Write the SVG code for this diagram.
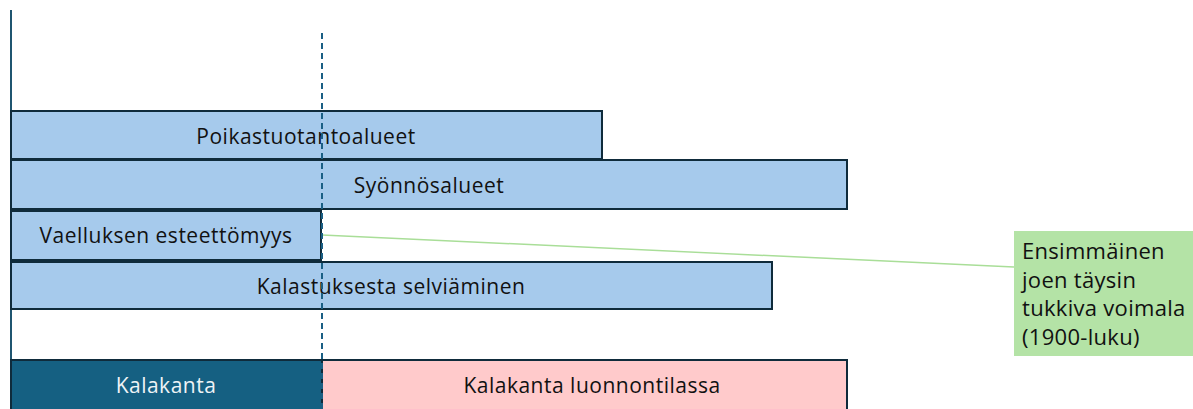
<svg xmlns="http://www.w3.org/2000/svg" width="1193" height="409" viewBox="0 0 1193 409">
<style>
.bar{fill:#a6caec;stroke:#0f2b3b;stroke-width:2}
.t{font-family:"Open Sans","Liberation Sans",Arial,sans-serif;font-size:21px;letter-spacing:0.5px;fill:#111;text-anchor:middle}
.tl{font-family:"Open Sans","Liberation Sans",Arial,sans-serif;font-size:22px;letter-spacing:0.3px;fill:#111}
</style>
<rect width="1193" height="409" fill="#fff"/>
<g id="axis"><line x1="11" y1="10" x2="11" y2="409" stroke="#1f5570" stroke-width="2"/></g>
<g id="poikastuotantoalueet"><rect class="bar" x="11" y="111" width="591" height="48"/><text class="t" x="306" y="144">Poikastuotantoalueet</text></g>
<g id="syonnosalueet"><rect class="bar" x="11" y="160" width="836" height="49"/><text class="t" x="429" y="193">Syönnösalueet</text></g>
<g id="vaellus"><rect class="bar" x="11" y="211" width="310" height="49"/><text class="t" x="166" y="243">Vaelluksen esteettömyys</text></g>
<g id="kalastus"><rect class="bar" x="11" y="262" width="761" height="47"/><text class="t" x="391" y="294">Kalastuksesta selviäminen</text></g>
<g id="kalakanta"><rect x="11" y="360" width="311" height="52" fill="#156082" stroke="#0f2b3b" stroke-width="2"/><text class="t" x="166" y="393" style="fill:#eef3f6">Kalakanta</text></g>
<g id="luonnontila"><rect x="322" y="360" width="525" height="52" fill="#ffcacb" stroke="#0f2b3b" stroke-width="2"/><text class="t" x="592" y="393">Kalakanta luonnontilassa</text></g>
<g id="voimala"><rect x="1014" y="231" width="179" height="125" fill="#b4e3a6"/>
<text class="tl" x="1022" y="259">Ensimmäinen</text>
<text class="tl" x="1022" y="288">joen täysin</text>
<text class="tl" x="1022" y="316">tukkiva voimala</text>
<text class="tl" x="1022" y="345">(1900-luku)</text></g>
<g id="connectors">
<line x1="322" y1="235" x2="1014" y2="267" stroke="#a9de98" stroke-width="1.5"/>
<line x1="322" y1="33" x2="322" y2="409" stroke="#1a5f84" stroke-width="2" stroke-dasharray="6,4"/>
</g>
</svg>
